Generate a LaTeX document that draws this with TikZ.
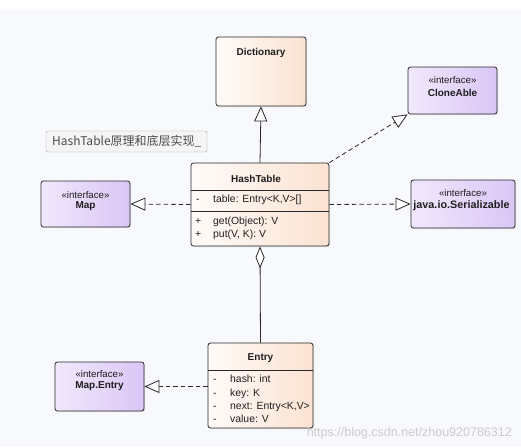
\documentclass[tikz,border=0pt]{standalone}
\usepackage{fontspec}
\setmainfont{Liberation Sans}
\newfontfamily\cjk{Noto Sans CJK SC}
\usetikzlibrary{arrows.meta,shadows}
\definecolor{clsL}{RGB}{255,251,248}
\definecolor{clsR}{RGB}{251,226,210}
\definecolor{ifL}{RGB}{241,232,252}
\definecolor{ifR}{RGB}{218,198,246}
\definecolor{bord}{RGB}{40,40,40}
\definecolor{bgc}{RGB}{248,249,252}
\definecolor{txt}{RGB}{30,30,30}
\tikzset{
  umlbox/.style={draw=bord, line width=0.8pt, rounded corners=2.5pt, inner sep=0pt,
    drop shadow={opacity=0.18, shadow xshift=1.2pt, shadow yshift=-1.2pt}},
  classbox/.style={umlbox, left color=clsL, right color=clsR},
  ifbox/.style={umlbox, left color=ifL, right color=ifR},
  ttl/.style={inner sep=0pt, font=\fontsize{10}{12}\selectfont\bfseries, text=txt},
  ster/.style={inner sep=0pt, font=\fontsize{9.7}{11}\selectfont, text=txt},
  row/.style={inner sep=0pt, anchor=west, text height=7.5pt, text depth=2pt,
    font=\fontsize{10.4}{12}\selectfont, text=txt},
  sep/.style={draw=bord, line width=0.7pt},
  gen/.style={draw=bord, line width=0.8pt, -{Triangle[open, length=15pt, width=13pt, fill=white]}},
  real/.style={gen, dashed, dash pattern=on 4.5pt off 3pt},
  agg/.style={draw=bord, line width=0.8pt, -{Diamond[open, length=22pt, width=9pt, fill=white]}}
}
\begin{document}
\begin{tikzpicture}[x=1pt,y=-1pt]
\fill[white] (0,0) rectangle (521,447);
\fill[bgc] (0,10) rectangle (521,447);
\useasboundingbox (0,0) rectangle (521,447);

% boxes
\node[classbox, minimum width=90pt, minimum height=69pt] (dict) at (261,71.5) {};
\node[ifbox, minimum width=89pt, minimum height=47pt] (clone) at (452.5,90.5) {};
\node[draw=gray!70, fill=gray!8, rounded corners=2pt, minimum width=161pt, minimum height=21pt, inner sep=0pt] (lbl) at (126.5,141.5) {};
\node[classbox, minimum width=138pt, minimum height=83pt] (ht) at (260,204.5) {};
\node[ifbox, minimum width=89pt, minimum height=46pt] (map) at (85.5,204) {};
\node[ifbox, minimum width=104pt, minimum height=48pt] (ser) at (463,204) {};
\node[classbox, minimum width=105pt, minimum height=85pt] (entry) at (260.5,385.5) {};
\node[ifbox, minimum width=89pt, minimum height=49pt] (me) at (99.5,386.5) {};

% texts
\node[ttl] (dictT) at (261,53) {Dictionary};
\node[ster] (cloneS) at (452.5,80) {«interface»};
\node[ttl] (cloneT) at (452.5,93) {CloneAble};
\node[inner sep=0pt, font=\cjk\fontsize{12}{14}\selectfont, text=black!70, anchor=west] (lblT) at (52,141.5) {HashTable原理和底层实现\_};
\node[ttl] (htT) at (256,179) {HashTable};
\node[row] at (196,200) {-};
\node[row] at (213,200) {table: Entry<K,V>[]};
\node[row] at (195,221.5) {+};
\node[row] at (213,221.5) {get(Object): V};
\node[row] at (195,234.5) {+};
\node[row] at (213,234.5) {put(V, K): V};
\node[ster] (mapS) at (85.5,195) {«interface»};
\node[ttl] (mapT) at (85.5,206) {Map};
\node[ster] (serS) at (463,193.5) {«interface»};
\node[ttl, font=\fontsize{10.8}{12}\selectfont\bfseries] (serT) at (461.5,205.5) {java.io.Serializable};
\node[ttl] (entryT) at (260.5,358.5) {Entry};
\node[row] at (213,380) {-};
\node[row] at (230,380) {hash: int};
\node[row] at (213,393.5) {-};
\node[row] at (230,393.5) {key: K};
\node[row] at (213,406.5) {-};
\node[row] at (230,406.5) {next: Entry<K,V>};
\node[row] at (213,419.5) {-};
\node[row] at (230,419.5) {value: V};
\node[ster] (meS) at (99.5,374.5) {«interface»};
\node[ttl] (meT) at (99.5,386.5) {Map.Entry};

% separators
\draw[sep] (ht.west |- 0,190) -- (ht.east |- 0,190);
\draw[sep] (ht.west |- 0,211.5) -- (ht.east |- 0,211.5);
\draw[sep] (entry.west |- 0,370) -- (entry.east |- 0,370);

% connectors
\draw[gen] (ht.north) -- (dict.south);
\draw[real] (ht.north east) -- (clone.south west);
\draw[real] (ht.west) -- (map.east);
\draw[real] (ht.east) -- (ser.west);
\draw[agg] (entry.north) -- (ht.south);
\draw[real] (entry.west |- me.east) -- (me.east);

% watermark
\node[inner sep=0pt, anchor=east, font=\fontsize{12.5}{14}\selectfont, text=gray!40] (wm) at (512,433) {https://blog.csdn.net/zhou920786312};
\end{tikzpicture}
\end{document}
